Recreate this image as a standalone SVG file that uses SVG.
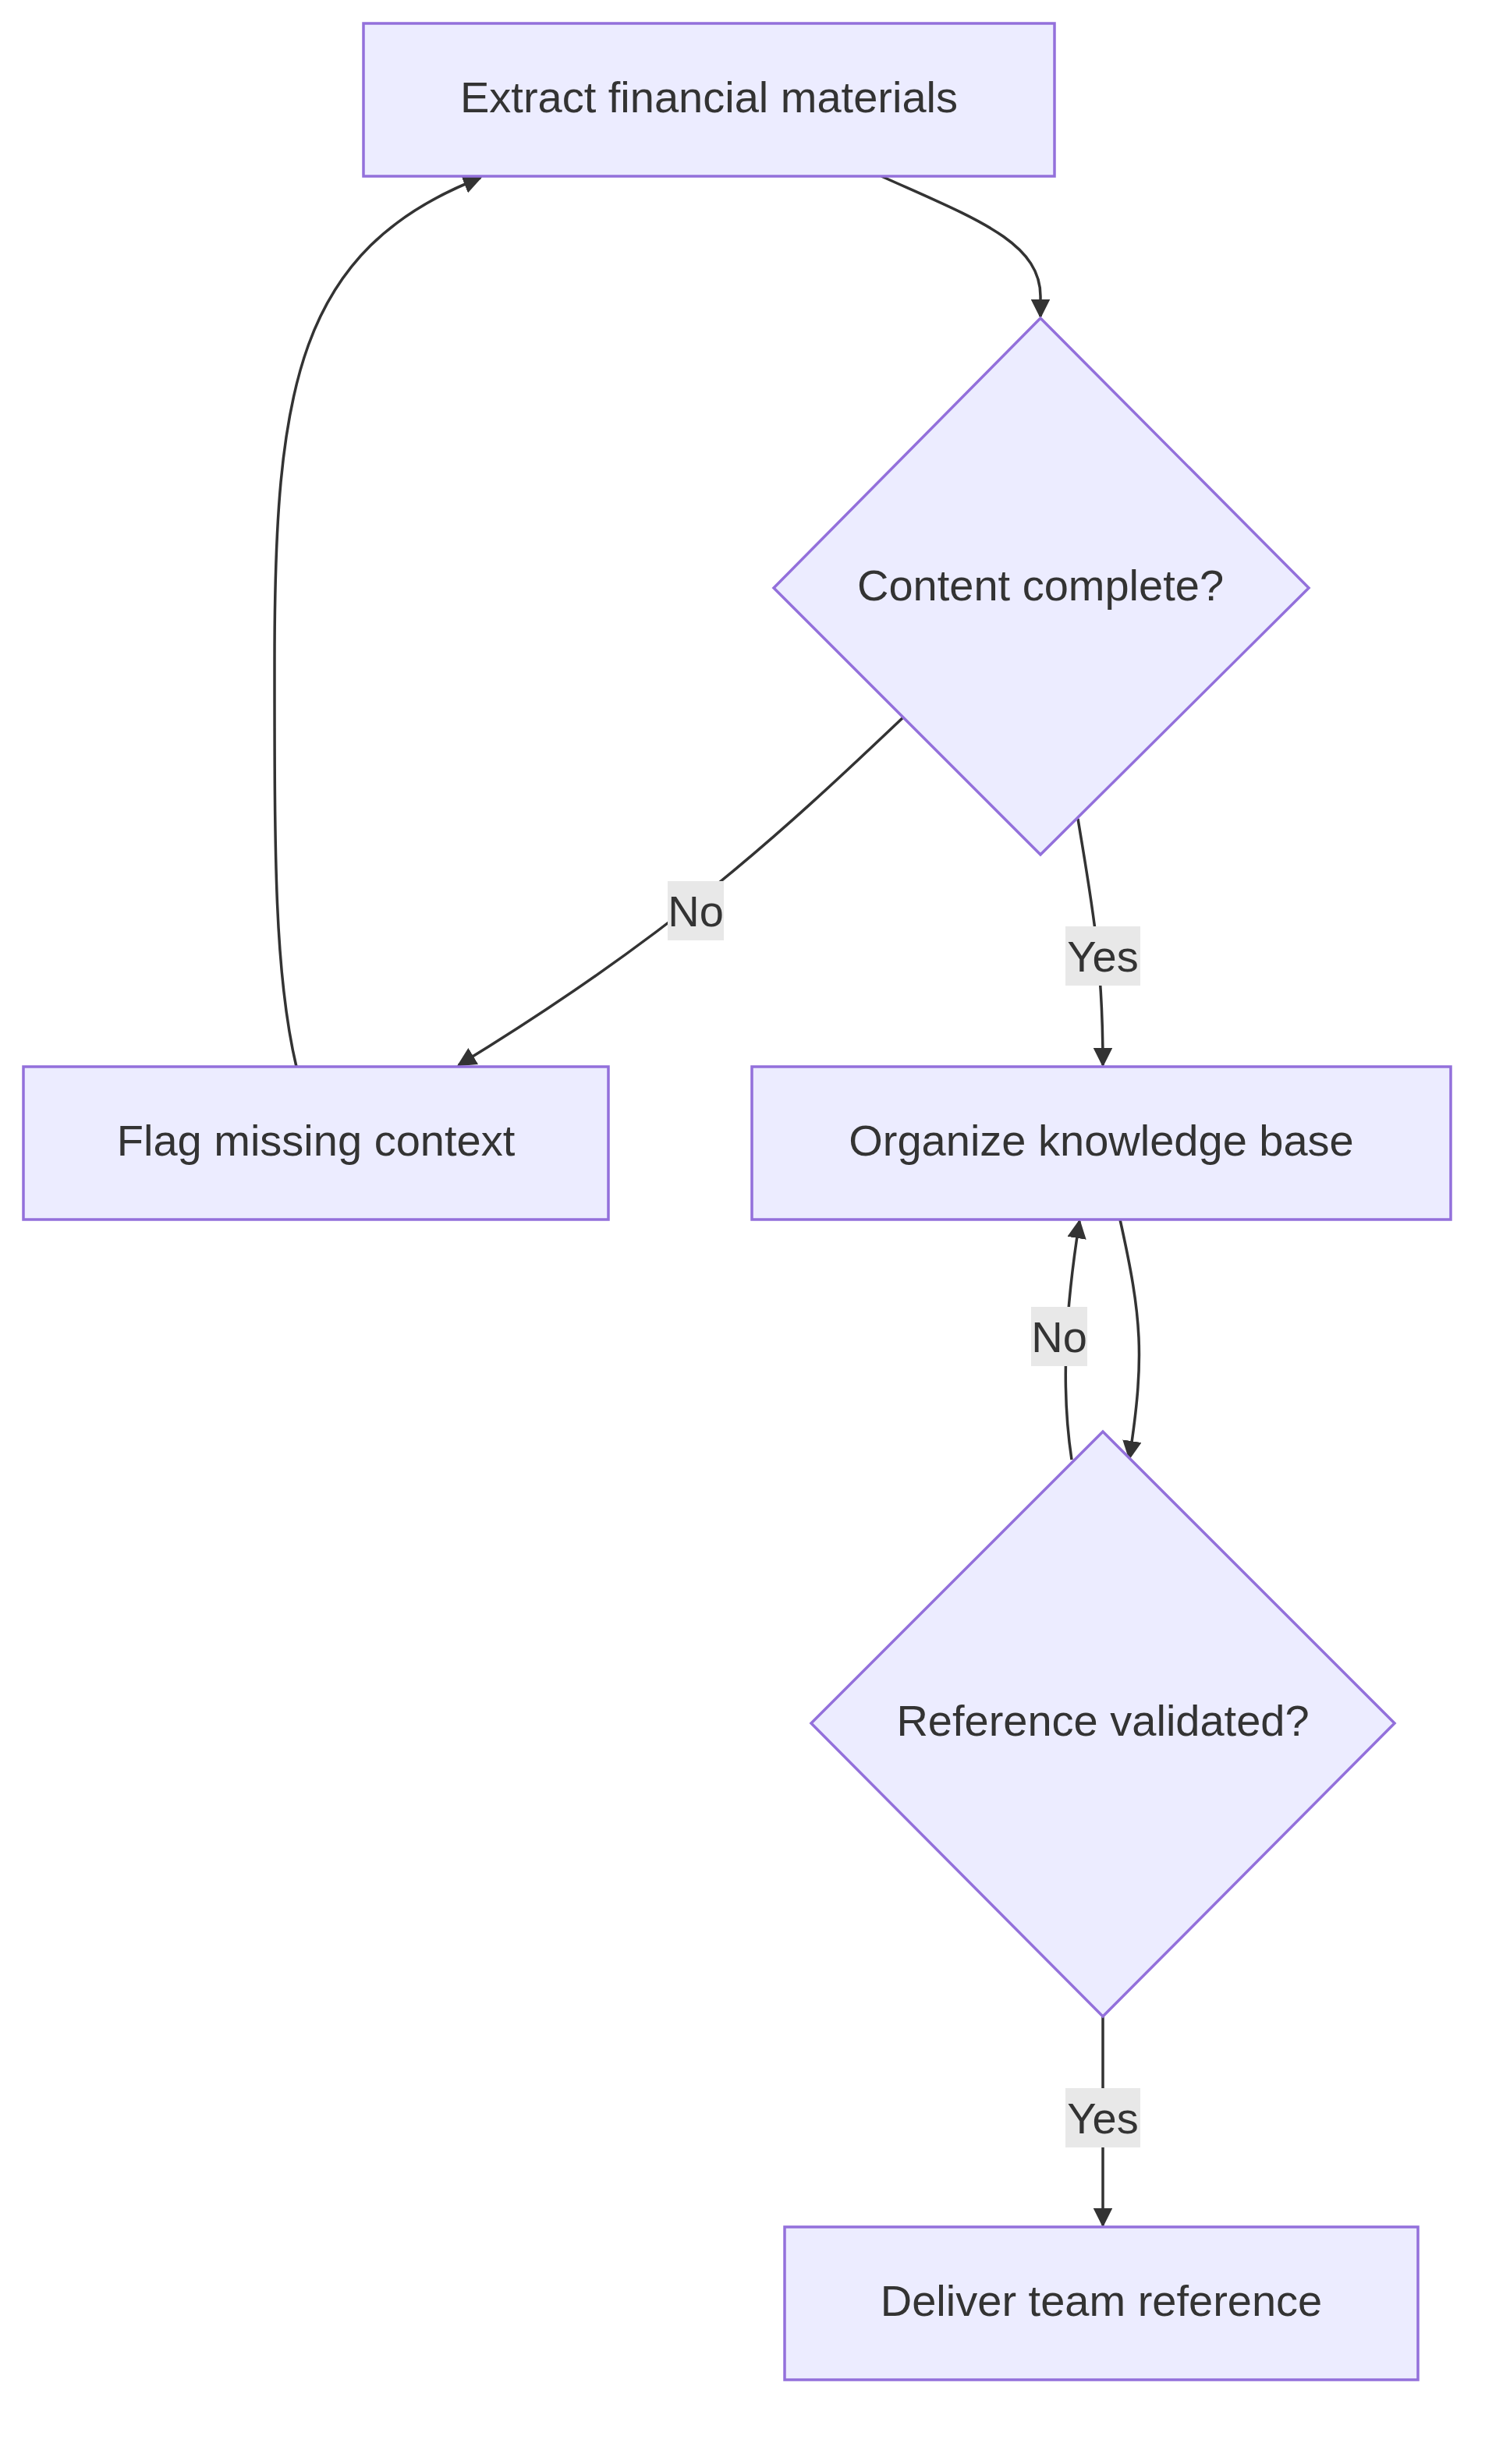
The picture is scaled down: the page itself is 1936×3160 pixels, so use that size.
<svg xmlns="http://www.w3.org/2000/svg" width="1936" height="3160" viewBox="0 0 1936 3160">
<style>
.n{fill:#ECECFF;stroke:#9370DB;stroke-width:3.5}
.t{font-family:"Liberation Sans",Arial,sans-serif;font-size:56px;fill:#333;text-anchor:middle;dominant-baseline:central}
.e{fill:none;stroke:#333;stroke-width:3.5;marker-end:url(#a)}
.lb{fill:#e8e8e8}
</style>
<defs><marker id="a" viewBox="0 0 10 10" refX="9" refY="5" markerWidth="7" markerHeight="7" markerUnits="strokeWidth" orient="auto"><path d="M0,0L10,5L0,10z" fill="#333"/></marker></defs>
<rect width="1936" height="3160" fill="#fff"/>
<g id="edges">
<path class="e" d="M1130,226 C1250,280 1334,310 1334,380 L1334,406"/>
<path class="e" d="M1158,920 C1000,1070 860,1200 588,1366"/>
<path class="e" d="M1382,1050 C1400,1160 1414,1230 1414,1366"/>
<path class="e" d="M380,1368 C352,1250 352,1100 352,850 C352,500 380,320 616,228"/>
<path class="e" d="M1436,1564 C1464,1690 1468,1740 1448,1870"/>
<path class="e" d="M1374,1872 C1360,1780 1366,1680 1384,1566"/>
<path class="e" d="M1414,2586 L1414,2854"/>
<rect class="lb" x="856" y="1130" width="72" height="76"/><text class="t" x="892" y="1168">No</text>
<rect class="lb" x="1366" y="1188" width="96" height="76"/><text class="t" x="1414" y="1226">Yes</text>
<rect class="lb" x="1322" y="1676" width="72" height="76"/><text class="t" x="1358" y="1714">No</text>
<rect class="lb" x="1366" y="2678" width="96" height="76"/><text class="t" x="1414" y="2716">Yes</text>
</g>
<g id="extract"><rect class="n" x="466" y="30" width="886" height="196"/><text class="t" x="909" y="124">Extract financial materials</text></g>
<g id="content"><polygon class="n" points="1334,408 1678,754 1334,1096 992,754"/><text class="t" x="1334" y="750">Content complete?</text></g>
<g id="flag"><rect class="n" x="30" y="1368" width="750" height="196"/><text class="t" x="405" y="1462">Flag missing context</text></g>
<g id="organize"><rect class="n" x="964" y="1368" width="896" height="196"/><text class="t" x="1412" y="1462">Organize knowledge base</text></g>
<g id="validated"><polygon class="n" points="1414,1836 1788,2210 1414,2586 1040,2210"/><text class="t" x="1414" y="2206">Reference validated?</text></g>
<g id="deliver"><rect class="n" x="1006" y="2856" width="812" height="196"/><text class="t" x="1412" y="2950">Deliver team reference</text></g>
</svg>
